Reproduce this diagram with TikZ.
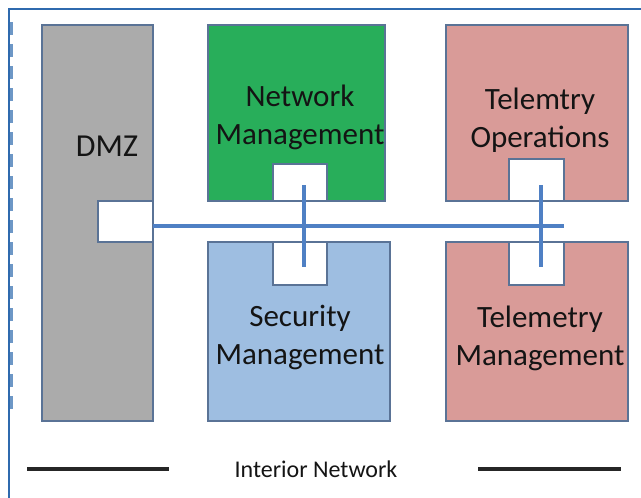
\documentclass[tikz,border=0pt]{standalone}
\usepackage{fontspec}
\setmainfont{Carlito}
\begin{document}
\begin{tikzpicture}[x=1pt,y=-1pt,
  box/.style={draw=boxedge,line width=1.6pt},
  port/.style={draw=boxedge,fill=white,line width=1.6pt},
  lbl/.style={align=center,font=\fontsize{31}{38}\selectfont,text=black!92},
  link/.style={draw=linkblue,line width=3.4pt},
  baseline/.style={line width=3.6pt,black!85}]
\definecolor{boxedge}{HTML}{5A7396}
\definecolor{dmzgray}{HTML}{ABABAB}
\definecolor{nmgreen}{HTML}{28AE5A}
\definecolor{tpink}{HTML}{D99B98}
\definecolor{smblue}{HTML}{9EBEE1}
\definecolor{linkblue}{HTML}{4F80C4}
\definecolor{framebl}{HTML}{2F6AAE}
\useasboundingbox (0,0) rectangle (641,498);
\fill[white] (0,0) rectangle (641,498);
% frame
\draw[framebl,line width=1.2pt] (9,498) -- (9,9) -- (641,9);
\draw[framebl!70,line width=3pt,dash pattern=on 13pt off 9pt] (11.5,22) -- (11.5,415);
% boxes
\draw[box,fill=dmzgray] (42,25) rectangle (153,421);
\draw[box,fill=nmgreen] (208,25) rectangle (385,201);
\draw[box,fill=tpink] (446,25) rectangle (628,201);
\draw[box,fill=smblue] (208,242) rectangle (390,421);
\draw[box,fill=tpink] (446,242) rectangle (628,421);
% labels
\node[lbl,font=\fontsize{32}{38}\selectfont] (dmz) at (107,146) {DMZ};
\node[lbl] (nm) at (300,117) {Network\\Management};
\node[lbl] (to) at (540,120) {Telemtry\\Operations};
\node[lbl] (sm) at (300,337) {Security\\Management};
\node[lbl] (tm) at (540,338) {Telemetry\\Management};
% ports
\draw[port] (98,201) rectangle (153,242);
\draw[port] (273,164) rectangle (327,201);
\draw[port] (273,242) rectangle (327,285);
\draw[port] (509,159) rectangle (564,201);
\draw[port] (509,242) rectangle (564,285);
\coordinate (hs) at (153,226);
\coordinate (he) at (564,226);
\coordinate (v1a) at (304,185);
\coordinate (v1b) at (304,267);
\coordinate (v2a) at (541,185);
\coordinate (v2b) at (541,267);
\draw[link] (hs) -- (he);
\draw[link] (v1a) -- (v1b);
\draw[link] (v2a) -- (v2b);
% bottom
\node[font=\fontsize{24}{28}\selectfont,text=black!92] (inet) at (316,469) {Interior Network};
\coordinate (l1a) at (27,469);
\coordinate (l1b) at (169,469);
\coordinate (l2a) at (478,469);
\coordinate (l2b) at (621,469);
\draw[baseline] (l1a) -- (l1b);
\draw[baseline] (l2a) -- (l2b);
\end{tikzpicture}
\end{document}
